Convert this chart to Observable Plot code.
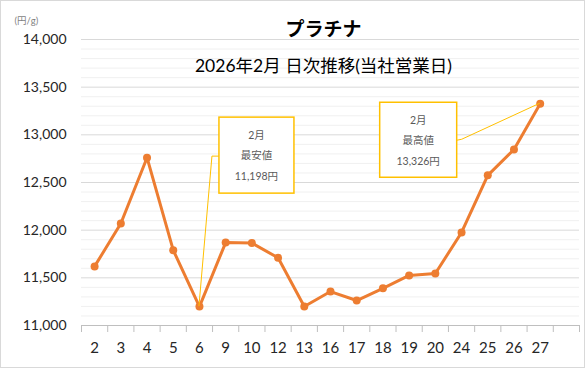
<!DOCTYPE html>
<html><head><meta charset="utf-8">
<script src="https://cdn.jsdelivr.net/npm/d3@7"></script>
<script src="https://cdn.jsdelivr.net/npm/@observablehq/plot@0.6"></script>
<style>body{margin:0;background:#fff}</style>
</head><body><div id="chart"></div>
<script>
const days = ["2","3","4","5","6","9","10","12","13","16","17","18","19","20","24","25","26","27"];
const prices = [11620,12070,12760,11790,11198,11870,11865,11710,11200,11356,11262,11390,11525,11545,11976,12575,12846,13326];
const yTicks = [11000,11500,12000,12500,13000,13500,14000];
const titleText = "プラチナ";
const subtitleText = "2026年2月 日次推移(当社営業日)";
const unitText = "(円/g)";
const monthLabel = "2月";
const minLabel = "最安値";
const maxLabel = "最高値";

const font = "Lato, 'Noto Sans CJK JP', sans-serif";
const slots = days.length + 1;
const minor = d3.range(11000, 14001, 100).filter(v => v % 500 !== 0);
const bounds = d3.range(0, slots + 1).map(i => i - 0.5);

const plot = Plot.plot({
  width: 585, height: 368,
  marginLeft: 81, marginRight: 6, marginTop: 39, marginBottom: 43,
  x: {domain: [-0.5, slots - 0.5], axis: null},
  y: {domain: [11000, 14000], axis: null},
  style: {fontFamily: font, background: "#fff", overflow: "visible"},
  marks: [
    Plot.ruleY(minor, {stroke: "#f0f0f0", strokeWidth: 1}),
    Plot.ruleY(yTicks.slice(1), {stroke: "#d9d9d9", strokeWidth: 1}),
    Plot.ruleY([11000], {stroke: "#bfbfbf", strokeWidth: 1}),
    Plot.axisX({ticks: bounds, tickSize: 7, tickFormat: () => "", stroke: "#bfbfbf"}),
    Plot.axisY({ticks: yTicks, tickSize: 0, tickPadding: 15, tickFormat: d3.format(","), fontSize: 14, fill: "#262626", label: null}),
    Plot.text(days, {x: (d, i) => i, y: () => 11000, dy: 23, fontSize: 15, fill: "#262626", lineAnchor: "middle"}),
    Plot.line(prices, {x: (d, i) => i, y: d => d, stroke: "#ED7D31", strokeWidth: 3, strokeLinejoin: "round"}),
    Plot.dot(prices, {x: (d, i) => i, y: d => d, r: 4, fill: "#ED7D31", stroke: "none"}),
    Plot.text([titleText], {frameAnchor: "top", dx: -7, dy: -10, fontSize: 19, fontWeight: "bold", fill: "#000", lineAnchor: "middle"}),
    Plot.text([subtitleText], {frameAnchor: "top", dx: -7, dy: 27, fontSize: 17.5, fill: "#000", lineAnchor: "middle"}),
    Plot.text([unitText], {frameAnchor: "top-left", dx: -67, dy: -19, fontSize: 9.5, fill: "#7f7f7f", textAnchor: "start", lineAnchor: "middle"})
  ]
});

const svg = d3.select(plot);
const sx = plot.scale("x"), sy = plot.scale("y");
const gold = "#FFC000";
function callout(i, label, bx, by, bw, bh, path) {
  const px = sx.apply(i), py = sy.apply(prices[i]);
  const g = svg.append("g");
  g.append("path").attr("d", d3.line()(path.map(([dx, dy]) => [px + dx, py + dy])))
    .attr("fill", "none").attr("stroke", gold).attr("stroke-width", 1);
  g.append("rect").attr("x", px + bx).attr("y", py + by).attr("width", bw).attr("height", bh)
    .attr("fill", "#fff").attr("stroke", gold).attr("stroke-width", 1.5);
  const lines = [monthLabel, label, d3.format(",")(prices[i]) + "円"];
  const offs = [18, 38, 59];
  lines.forEach((t, k) => {
    g.append("text").attr("x", px + bx + bw / 2).attr("y", py + by + offs[k]).attr("dy", "0.35em")
      .attr("text-anchor", "middle").attr("font-size", 10.5).attr("fill", "#595959")
      .attr("font-family", font).text(t);
  });
}
const iMin = prices.indexOf(d3.min(prices));
const iMax = prices.indexOf(d3.max(prices));
callout(iMin, minLabel, 20, -189, 75, 76, [[0, 0], [13, -150], [20, -150]]);
callout(iMax, maxLabel, -160, -1, 77, 75, [[0, 0], [-78, 36], [-83, 37]]);

svg.append("rect").attr("x", 0.5).attr("y", 0.5).attr("width", 584).attr("height", 367)
  .attr("fill", "none").attr("stroke", "#d9d9d9");

document.getElementById("chart").append(plot);
</script>
</body></html>
